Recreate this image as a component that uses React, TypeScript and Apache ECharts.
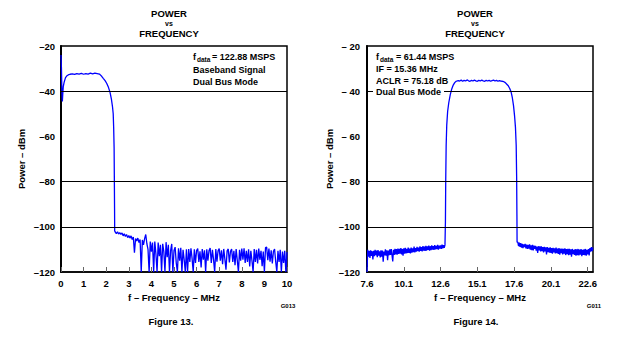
import React, { useEffect, useRef } from "react";
import * as echarts from "echarts";

// ---------- data ----------
// Figure 13 (baseband, fdata = 122.88 MSPS): passband trace [MHz, dBm]
const LEFT_PASS: [number, number][] = [
  [0, -24], [0.02, -30], [0.04, -40], [0.06, -44.5], [0.08, -41], [0.1, -38],
  [0.14, -36], [0.2, -34], [0.26, -33.2], [0.32, -32.8], [0.4, -32.5], [0.5, -32.3],
  [0.6, -32.6], [0.7, -32.2], [0.8, -32.4], [0.9, -32.1], [1.0, -32.5], [1.1, -32.2],
  [1.2, -32.4], [1.3, -32.0], [1.4, -32.3], [1.5, -32.0], [1.6, -32.2], [1.7, -32.4],
  [1.75, -32.9], [1.8, -33.4], [1.87, -34.3], [1.95, -35.3], [2.02, -36.5], [2.1, -38.3],
  [2.17, -40.5], [2.23, -43.5], [2.28, -47], [2.31, -50], [2.33, -56], [2.35, -65],
  [2.36, -78], [2.37, -92], [2.375, -101.8],
];
// Figure 13 noise floor, sampled every 0.05 MHz from 2.40 MHz
const LEFT_NOISE_START = 2.4;
const LEFT_NOISE_STEP = 0.05;
const LEFT_NOISE: number[] = [
  -102.3, -103.0, -102.2, -103.2, -102.6,
  -103.4, -102.7, -104.0, -103.1, -104.3, -103.4, -104.8, -103.9,
  -105.0, -104.0, -105.6, -104.5, -111.5, -105.2, -106.3, -105.0, -107.0, -105.6,
  -120, -105.8, -108.0, -105.2, -103.4, -107.5, -110.0, -120, -106.5, -111.0,
  -107.0, -120, -106.5, -112.0, -120, -107.0, -113.0, -108.0, -120, -107.5,
  -111.0, -120, -106.8, -113.5, -108.0, -120, -110.5, -107.6, -120, -110.5,
  -109.0, -116.0, -120, -109.5, -115.0, -109.3, -120, -110.2, -114.5, -120,
  -110.0, -120, -109.8, -115.5, -109.5, -114.0, -120, -110.0, -116.0, -110.5,
  -109.6, -115.5, -110.8, -118.0, -109.8, -114.5, -110.4, -120, -110.0, -115.0,
  -110.5, -109.4, -116.0, -110.2, -114.5, -120, -109.8, -115.4, -110.6, -109.6,
  -115.0, -110.4, -116.5, -109.8, -114.2, -119.0, -110.6, -109.8, -115.8, -110.8,
  -109.9, -115.5, -110.6, -117.0, -109.8, -114.8, -120, -110.2, -115.0, -109.6,
  -114.5, -109.5, -116.0, -110.6, -115.5, -110.0, -117.5, -110.6, -115.0, -120,
  -109.8, -115.6, -110.2, -116.2, -109.6, -114.6, -110.6, -117.4, -111.0, -120,
  -109.2, -109.0, -114.8, -109.6, -115.4, -110.4, -116.2, -110.8, -109.9, -115.4,
  -120, -110.6, -115.6, -110.2, -120, -111.0, -116.0, -110.6, -120, -111.2,
];

// Figure 14 (IF = 15.36 MHz): lower noise floor, every 0.05 MHz from 7.60 MHz
const RIGHT_LOW_START = 7.6;
const RIGHT_STEP = 0.05;
const RIGHT_LOW_NOISE: number[] = [
  -120, -110.2, -113.2, -110.6, -113.8, -110.4, -112.9, -110.8, -114.4, -110.6,
  -113.0, -110.2, -112.6, -110.5, -113.4, -110.3, -112.8, -110.9, -113.6, -110.4,
  -113.2, -110.5, -115.4, -110.9, -112.7, -110.0, -112.8, -110.4, -114.8, -110.5,
  -112.6, -110.0, -112.4, -109.9, -112.5, -115.3, -110.2, -112.4, -109.8, -112.2,
  -109.9, -112.3, -109.6, -112.0, -109.7, -111.9, -109.4, -112.2, -109.8, -112.8,
  -109.5, -111.9, -109.3, -111.8, -109.8, -111.6, -109.2, -111.5, -109.6, -111.8,
  -109.2, -111.4, -109.5, -111.2, -108.8, -111.3, -109.4, -111.0, -108.9, -110.8,
  -109.2, -111.0, -108.6, -110.7, -109.0, -110.9, -108.5, -110.6, -108.8, -110.7,
  -108.4, -110.5, -108.7, -110.2, -108.3, -110.6, -108.6, -110.3, -108.2, -110.1,
  -108.5, -110.2, -108.1, -110.0, -108.4, -109.9, -108.0, -110.1, -108.3, -109.6,
  -108.2, -109.8, -107.9, -109.5, -108.1, -109.3, -108.0,
];
// Figure 14 passband trace [MHz, dBm]
const RIGHT_PASS: [number, number][] = [
  [12.92, -107.8], [12.93, -98], [12.95, -80], [12.98, -64], [13.02, -55], [13.08, -49],
  [13.16, -45], [13.26, -41.5], [13.36, -39], [13.46, -37.3], [13.56, -36.2], [13.66, -35.6],
  [13.8, -35.3], [13.9, -35.5], [14.0, -35.1], [14.1, -35.6], [14.2, -35.2], [14.3, -35.5],
  [14.4, -35.0], [14.5, -35.4], [14.6, -35.6], [14.7, -35.2], [14.8, -35.5], [14.9, -35.1],
  [15.0, -35.4], [15.1, -35.6], [15.2, -35.2], [15.3, -35.5], [15.4, -35.1], [15.5, -35.4],
  [15.6, -35.6], [15.7, -35.2], [15.8, -35.5], [15.9, -35.2], [16.0, -35.6], [16.1, -35.3],
  [16.2, -35.1], [16.3, -35.5], [16.4, -35.2], [16.5, -35.6], [16.6, -35.3], [16.7, -35.5],
  [16.8, -35.6], [16.9, -35.8], [17.0, -36.2], [17.1, -36.9], [17.2, -37.6], [17.3, -38.8],
  [17.4, -40.5], [17.48, -43], [17.56, -46.5], [17.63, -51], [17.69, -56], [17.74, -64],
  [17.77, -78], [17.79, -95], [17.8, -106.8],
];
// Figure 14 upper noise floor, every 0.05 MHz from 17.85 MHz
const RIGHT_HIGH_START = 17.85;
const RIGHT_HIGH_NOISE: number[] = [
  -106.8, -108.6, -107.0, -108.9, -107.2, -109.2, -107.5, -109.4, -107.8, -109.0,
  -107.6, -109.5, -107.9, -109.8, -108.0, -109.7, -107.8, -110.1, -108.2, -110.3,
  -108.0, -110.4, -108.3, -109.8, -108.4, -110.6, -108.8, -111.6, -108.6, -110.4,
  -108.7, -110.9, -108.6, -110.8, -109.0, -111.3, -108.9, -110.9, -109.1, -112.2,
  -109.0, -111.2, -109.3, -111.4, -109.1, -111.6, -109.4, -111.9, -109.3, -111.3,
  -109.5, -111.8, -109.2, -111.7, -109.6, -112.0, -109.4, -112.3, -109.7, -111.6,
  -109.6, -112.2, -109.8, -111.9, -109.5, -112.5, -109.9, -112.1, -109.7, -112.6,
  -109.8, -112.3, -110.0, -113.2, -109.8, -112.1, -110.2, -112.4, -109.9, -112.8,
  -110.0, -112.5, -109.8, -112.7, -110.1, -112.3, -109.9, -113.0, -110.2, -112.4,
  -110.0, -112.6, -109.8, -112.8, -110.2, -112.2, -109.9, -112.7, -109.4, -111.0,
  -109.0, -110.8, -109.2,
];

const Y_MIN = -120;
const Y_MAX = -20;
const Y_STEP = 20;
const GRID_LEVELS = [-40, -80, -100];
const LEFT_X_MIN = 0;
const LEFT_X_MAX = 10;
const LEFT_X_STEP = 1;
const RIGHT_X_MIN = 7.6;
const RIGHT_X_MAX = 22.96;
const RIGHT_X_TICKS = [7.6, 10.1, 12.6, 15.1, 17.6, 20.1, 22.6];

const LEFT_NOTES = ["Baseband Signal", "Dual Bus Mode"];
const RIGHT_NOTES = ["IF = 15.36 MHz", "ACLR = 75.18 dB", "Dual Bus Mode"];

// ---------- helpers ----------
const sampled = (start: number, step: number, vals: number[]): [number, number][] =>
  vals.map((v, i) => [+(start + i * step).toFixed(3), v]);

const FF = '"Liberation Sans", Arial, Helvetica, sans-serif';
const bold = (s: number) => `bold ${s}px ${FF}`;

export default function App() {
  const ref = useRef<HTMLDivElement>(null);

  useEffect(() => {
    if (!ref.current) return;
    const chart = echarts.init(ref.current, undefined, { renderer: "svg" });

    const leftData = [...LEFT_PASS, ...sampled(LEFT_NOISE_START, LEFT_NOISE_STEP, LEFT_NOISE)];
    const rightData = [
      ...sampled(RIGHT_LOW_START, RIGHT_STEP, RIGHT_LOW_NOISE),
      ...RIGHT_PASS,
      ...sampled(RIGHT_HIGH_START, RIGHT_STEP, RIGHT_HIGH_NOISE),
    ];

    const labelStyle = { color: "#000", fontFamily: FF, fontWeight: "bold" as const, fontSize: 9.5 };
    const yAxisBase = {
      type: "value" as const,
      min: Y_MIN,
      max: Y_MAX,
      interval: Y_STEP,
      name: "Power \u2013 dBm",
      nameLocation: "middle" as const,
      nameRotate: 90,
      nameTextStyle: { ...labelStyle },
      axisLine: { show: true, lineStyle: { color: "#000", width: 2 } },
      axisTick: { show: false },
      splitLine: { show: false },
    };
    const xName = "f \u2013 Frequency \u2013 MHz";
    const xAxisBase = {
      type: "value" as const,
      name: xName,
      nameLocation: "middle" as const,
      nameGap: 18,
      nameTextStyle: { ...labelStyle },
      axisLine: { show: true, onZero: false, lineStyle: { color: "#000", width: 1.5 } },
      splitLine: { show: false },
    };

    const markLine = {
      silent: true,
      symbol: ["none", "none"],
      label: { show: false },
      lineStyle: { color: "#000", width: 1.2, type: "solid" as const },
      data: GRID_LEVELS.map((v) => ({ yAxis: v })),
    };

    const txt = (
      text: string,
      x: number,
      y: number,
      font: string,
      align: string = "center",
      extra: any = {}
    ) => ({
      type: "text",
      x,
      y,
      z: 100,
      style: {
        text,
        font,
        fill: "#000",
        align,
        textAlign: align,
        verticalAlign: "middle",
        textVerticalAlign: "middle",
        ...extra,
      },
    });

    const graphics: any[] = [
      // titles
      txt("POWER", 169, 13, bold(9.5)),
      txt("vs", 169, 23, bold(7)),
      txt("FREQUENCY", 169, 33, bold(9.5)),
      txt("POWER", 475, 13, bold(9.5)),
      txt("vs", 475, 23, bold(7)),
      txt("FREQUENCY", 475, 33, bold(9.5)),
      // left annotations
      txt("f", 193, 57, bold(9), "left"),
      txt("data", 197, 59, bold(6.5), "left"),
      txt("= 122.88 MSPS", 212, 57, bold(9), "left"),
      txt(LEFT_NOTES[0], 193, 69.5, bold(9), "left"),
      txt(LEFT_NOTES[1], 193, 82, bold(9), "left"),
      // right annotations
      txt("f", 376, 57, bold(9), "left"),
      txt("data", 380, 59, bold(6.5), "left"),
      txt("= 61.44 MSPS", 396, 57, bold(9), "left"),
      txt(RIGHT_NOTES[0], 376, 69, bold(9), "left"),
      txt(RIGHT_NOTES[1], 376, 80.7, bold(9), "left"),
      txt(RIGHT_NOTES[2], 373, 92.3, bold(9), "left", {
        backgroundColor: "#fff",
        padding: [0, 3, 0, 3],
      }),
      // figure ids
      txt("G013", 288, 306, bold(6)),
      txt("G011", 594, 305.5, bold(6)),
      txt("Figure 13.", 171, 321, bold(9.5)),
      txt("Figure 14.", 476, 321, bold(9.5)),
    ];

    chart.setOption({
      animation: false,
      backgroundColor: "#fff",
      grid: [
        { left: 61, top: 46, width: 226, height: 226, show: true, borderColor: "#000", borderWidth: 1.5, backgroundColor: "transparent" },
        { left: 367, top: 46, width: 226, height: 226, show: true, borderColor: "#000", borderWidth: 1.5, backgroundColor: "transparent" },
      ],
      xAxis: [
        {
          ...xAxisBase,
          gridIndex: 0,
          min: LEFT_X_MIN,
          max: LEFT_X_MAX,
          interval: LEFT_X_STEP,
          axisTick: { show: true, inside: true, length: 5, lineStyle: { color: "#666", width: 1 } },
          axisLabel: { ...labelStyle, margin: 6 },
        },
        {
          ...xAxisBase,
          gridIndex: 1,
          min: RIGHT_X_MIN,
          max: RIGHT_X_MAX,
          axisTick: {
            show: true,
            inside: true,
            length: 5,
            customValues: RIGHT_X_TICKS,
            lineStyle: { color: "#666", width: 1 },
          },
          axisLabel: {
            ...labelStyle,
            margin: 6,
            customValues: RIGHT_X_TICKS,
            formatter: (v: number) => v.toFixed(1),
          },
        },
      ],
      yAxis: [
        {
          ...yAxisBase,
          gridIndex: 0,
          nameGap: 35,
          axisLabel: { ...labelStyle, margin: 6, formatter: (v: number) => "\u2013" + Math.abs(v) },
        },
        {
          ...yAxisBase,
          gridIndex: 1,
          nameGap: 33,
          axisLabel: {
            ...labelStyle,
            margin: 7,
            formatter: (v: number) => (v > -100 ? "\u2013 " : "\u2013") + Math.abs(v),
          },
        },
      ],
      series: [
        {
          type: "line",
          xAxisIndex: 0,
          yAxisIndex: 0,
          data: leftData,
          showSymbol: false,
          symbol: "none",
          clip: true,
          lineStyle: { color: "#0000ff", width: 1.3 },
          markLine,
        },
        {
          type: "line",
          xAxisIndex: 1,
          yAxisIndex: 1,
          data: rightData,
          showSymbol: false,
          symbol: "none",
          clip: true,
          lineStyle: { color: "#0000ff", width: 1.3 },
          markLine,
        },
      ],
      graphic: graphics,
    });

    return () => chart.dispose();
  }, []);

  return (
    <div
      ref={ref}
      style={{ position: "absolute", left: 0, top: 0, width: 620, height: 338, background: "#fff" }}
    />
  );
}
